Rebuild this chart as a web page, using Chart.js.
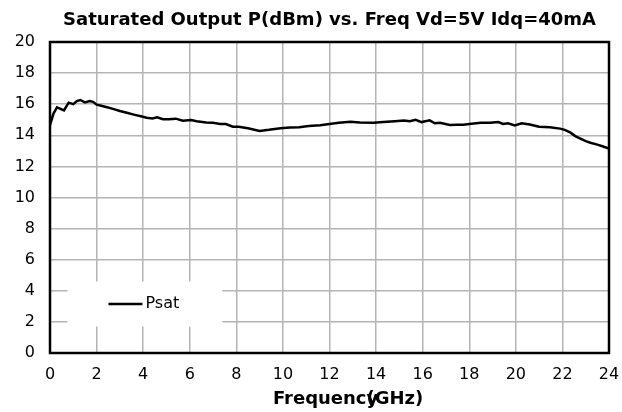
<!DOCTYPE html>
<html>
<head>
<meta charset="utf-8">
<style>
  html, body { margin: 0; padding: 0; background: #fff; }
  #wrap { width: 622px; height: 412px; position: relative; }
</style>
<script src="https://cdn.jsdelivr.net/npm/chart.js@4.4.1/dist/chart.umd.min.js"></script>
</head>
<body>
<div id="wrap"><canvas id="c" width="622" height="412"></canvas></div>
<script>
// Saturated output power versus frequency
const freqGHz = [0, 0.15, 0.3, 0.45, 0.6, 0.8, 1.0, 1.15, 1.3, 1.5, 1.7, 1.85, 2.0, 2.2, 2.45, 2.7, 3.0, 3.3, 3.6, 3.9,
  4.15, 4.4, 4.6, 4.85, 5.1, 5.4, 5.7, 6.05, 6.3, 6.7, 7.0, 7.3, 7.55, 7.85, 8.1, 8.5, 9.0, 9.4, 9.9, 10.3,
  10.7, 11.1, 11.6, 12.0, 12.4, 12.9, 13.3, 13.9, 14.3, 14.8, 15.2, 15.45, 15.7, 15.95, 16.3, 16.52, 16.74, 17.17, 17.45, 17.74,
  18.0, 18.5, 18.9, 19.25, 19.45, 19.67, 19.95, 20.25, 20.6, 21.0, 21.46, 21.9, 22.1, 22.35, 22.55, 22.75, 23.0, 23.2, 23.5, 23.75, 24.0];
const psatDbm = [14.66, 15.4, 15.8, 15.7, 15.6, 16.1, 16.0, 16.2, 16.27, 16.12, 16.2, 16.15, 15.97, 15.9, 15.8, 15.7, 15.56, 15.45, 15.33, 15.22,
  15.13, 15.08, 15.16, 15.03, 15.04, 15.07, 14.94, 14.98, 14.9, 14.83, 14.8, 14.73, 14.72, 14.55, 14.55, 14.45, 14.28, 14.35, 14.46, 14.5,
  14.52, 14.6, 14.65, 14.73, 14.8, 14.87, 14.82, 14.81, 14.85, 14.9, 14.95, 14.9, 15.0, 14.85, 14.96, 14.77, 14.81, 14.66, 14.68, 14.68,
  14.73, 14.8, 14.8, 14.85, 14.73, 14.77, 14.64, 14.77, 14.7, 14.55, 14.52, 14.43, 14.35, 14.17, 13.95, 13.8, 13.62, 13.52, 13.4, 13.28, 13.14];
const xTicks = [0, 2, 4, 6, 8, 10, 12, 14, 16, 18, 20, 22, 24];
const yTicks = [0, 2, 4, 6, 8, 10, 12, 14, 16, 18, 20];
const titleText = 'Saturated Output P(dBm) vs. Freq Vd=5V Idq=40mA';
const xTitleParts = ['Frequency', '(GHz)'];
const seriesName = 'Psat';

const points = freqGHz.map((f, i) => ({ x: f, y: psatDbm[i] }));

// Black frame around the plot area
const framePlugin = {
  id: 'frame',
  afterDatasetsDraw(chart) {
    const a = chart.chartArea, ctx = chart.ctx;
    ctx.save();
    ctx.strokeStyle = '#000';
    ctx.lineWidth = 2.5;
    ctx.strokeRect(a.left, a.top, a.right - a.left, a.bottom - a.top);
    ctx.restore();
  }
};

// Chart heading, centred over the plot area
const heading = {
  id: 'heading',
  afterDraw(chart) {
    const ctx = chart.ctx, a = chart.chartArea;
    ctx.save();
    ctx.fillStyle = '#000';
    ctx.font = 'bold 18px "DejaVu Sans"';
    ctx.textAlign = 'center';
    ctx.textBaseline = 'middle';
    ctx.fillText(titleText, (a.left + a.right) / 2, 20);
    ctx.restore();
  }
};

// X axis caption: the unit is set tight against the word
const xCaption = {
  id: 'xCaption',
  afterDraw(chart) {
    const ctx = chart.ctx, xs = chart.scales.x;
    ctx.save();
    ctx.fillStyle = '#000';
    ctx.font = 'bold 18px "DejaVu Sans"';
    ctx.textBaseline = 'middle';
    const y = 399;
    const x0 = xs.getPixelForValue(10) - 10;
    ctx.fillText(xTitleParts[0], x0, y);
    const w = ctx.measureText(xTitleParts[0].slice(0, -1)).width;
    ctx.fillText(xTitleParts[1], x0 + w, y);
    ctx.restore();
  }
};

// Legend box inside the plot, lower left
const insideLegend = {
  id: 'insideLegend',
  afterDraw(chart) {
    const ctx = chart.ctx, ds = chart.data.datasets[0];
    const xs = chart.scales.x, ys = chart.scales.y;
    const left = xs.getPixelForValue(0.75), right = xs.getPixelForValue(7.4);
    const top = ys.getPixelForValue(4.6), bottom = ys.getPixelForValue(1.7);
    ctx.save();
    ctx.fillStyle = '#fff';
    ctx.fillRect(left, top, right - left, bottom - top);
    const cy = (top + bottom) / 2;
    ctx.strokeStyle = ds.borderColor;
    ctx.lineWidth = ds.borderWidth;
    ctx.beginPath();
    ctx.moveTo(left + 41, cy);
    ctx.lineTo(left + 75, cy);
    ctx.stroke();
    ctx.fillStyle = '#000';
    ctx.font = '16px "DejaVu Sans"';
    ctx.textBaseline = 'middle';
    ctx.fillText(ds.label, left + 78, cy);
    ctx.restore();
  }
};

new Chart(document.getElementById('c'), {
  type: 'scatter',
  data: {
    datasets: [{
      label: seriesName,
      data: points,
      showLine: true,
      borderColor: '#000',
      backgroundColor: '#000',
      borderWidth: 2.5,
      pointRadius: 0,
      tension: 0
    }]
  },
  options: {
    responsive: false,
    animation: false,
    layout: { padding: { left: 0, right: 13, top: 42, bottom: 0 } },
    plugins: {
      legend: { display: false },
      tooltip: { enabled: false },
      title: { display: false }
    },
    scales: {
      x: {
        type: 'linear', min: 0, max: 24,
        afterBuildTicks(s) { s.ticks = xTicks.map(v => ({ value: v })); },
        afterFit(s) { s.height = 59; s.paddingLeft = 0; s.paddingRight = 0; },
        grid: { color: '#b4b4b4', lineWidth: 1.5, drawTicks: false },
        border: { display: false },
        ticks: { color: '#000', padding: 12, font: { family: 'DejaVu Sans', size: 16 } }
      },
      y: {
        min: 0, max: 20,
        afterBuildTicks(s) { s.ticks = yTicks.map(v => ({ value: v })); },
        afterFit(s) { s.width = 50; s.paddingTop = 0; s.paddingBottom = 0; },
        grid: { color: '#b4b4b4', lineWidth: 1.5, drawTicks: false },
        border: { display: false },
        ticks: { color: '#000', padding: 15, font: { family: 'DejaVu Sans', size: 16 } }
      }
    }
  },
  plugins: [framePlugin, heading, xCaption, insideLegend]
});
</script>
</body>
</html>
